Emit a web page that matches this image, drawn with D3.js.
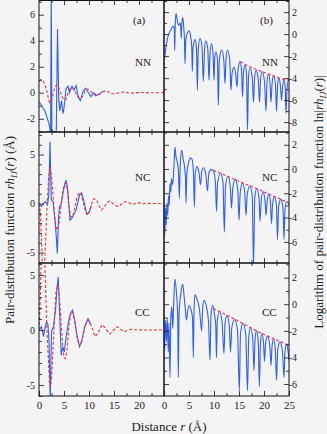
<!DOCTYPE html>
<html>
<head>
<meta charset="utf-8">
<script src="https://cdn.jsdelivr.net/npm/d3@7"></script>
<style>
  body { margin: 0; background: #f4f4f4; }
  svg { display: block; font-family: "Liberation Serif", "Times New Roman", serif; }
</style>
</head>
<body>
<div class="graph-container"></div>
<script>
// ---- data ----
// (a) pair-distribution functions r*h_IJ(r): blue = simulation, red dashed = model
const nnLinR = [0, 0.4, 0.8, 1.2, 1.6, 2.0, 2.2, 2.32, 2.45, 2.58, 2.9, 3.2, 3.45, 3.7, 3.95, 4.15, 4.5, 4.8, 5.0, 5.4, 5.8, 6.1, 6.6, 7.0, 7.4, 7.9, 8.3, 8.8, 9.3, 9.8, 10.4, 10.9, 11.5, 12.1, 12.7, 13.2];
const nnLinV = [-0.7, -0.9, -1.2, -1.4, -1.9, -2.4, -2.8, -3.5, 8.0, -3.5, -2.98, -2.98, -3.2, 4.9, -0.5, -1.4, -0.6, -1.6, -1.2, 0.3, 0.5, 0.0, 0.5, 0.2, 0.55, -0.4, -0.6, 0.1, 0.35, 0.05, -0.3, 0.0, -0.2, -0.1, 0.1, 0.1];
const nnFitR = [0, 0.3, 0.6, 0.9, 1.2, 1.5, 1.8, 2.1, 2.4, 2.7, 3.0, 3.3, 3.6, 3.9, 4.2, 4.6, 5.0, 5.4, 5.8, 6.2, 6.7, 7.2, 7.7, 8.2, 8.7, 9.2, 9.7, 10.2, 10.8, 11.4, 12.0, 12.6, 13.2, 13.9, 14.6, 15.3, 16.1, 17.0, 18.0, 19.0, 20.0, 21.0, 22.0, 23.0, 24.0, 25.0];
const nnFitV = [0.9, 1.0, 1.0, 0.85, 0.6, 0.2, -0.3, -0.75, -0.7, -0.3, 0.2, 0.5, 0.6, 0.45, 0.1, -0.3, -0.55, -0.5, -0.1, 0.3, 0.4, 0.1, -0.25, -0.45, -0.3, 0.1, 0.3, 0.2, -0.1, -0.25, -0.15, 0.05, 0.15, 0.05, -0.08, -0.08, 0.03, 0.05, -0.02, -0.03, 0.01, 0.02, -0.01, 0, 0, 0];

const ncLinR = [0, 0.5, 1.0, 1.3, 1.7, 1.95, 2.2, 2.45, 2.8, 3.1, 3.4, 3.67, 3.9, 4.1, 4.4, 4.9, 5.4, 5.7, 5.95, 6.2, 6.6, 7.0, 7.4, 7.8, 8.2, 8.5, 8.9, 9.2, 9.6, 10.0, 10.5];
const ncLinV = [0, -0.3, 0.1, 0.2, -0.1, 0.8, 6.3, 0.4, 0.2, -1.2, -3.0, -5.1, -1.5, -0.3, -0.15, 1.4, 2.4, 1.6, 0.0, -1.7, -1.5, -1.1, -0.7, 0.2, 1.0, 1.1, 0.4, -0.3, -1.1, -0.9, -0.2];
const ncFitR = [0, 0.3, 0.55, 0.8, 1.05, 1.3, 1.6, 1.9, 2.2, 2.5, 2.8, 3.1, 3.4, 3.7, 4.0, 4.4, 4.8, 5.1, 5.4, 5.7, 6.0, 6.3, 6.7, 7.1, 7.6, 8.0, 8.4, 8.8, 9.3, 9.7, 10.1, 10.6, 11.0, 11.5, 12.0, 12.5, 13.0, 13.6, 14.2, 14.9, 15.7, 16.4, 17.2, 17.9, 18.6, 19.4, 20.2, 21.0, 22.0, 23.0, 24.0, 25.0];
const ncFitV = [0, -1.0, -4.5, -8.0, -7.5, -4.0, -0.5, 2.5, 3.8, 2.8, 0.8, -1.2, -2.4, -2.7, -2.0, -0.3, 1.3, 2.0, 2.1, 1.3, -0.2, -1.3, -1.4, -0.6, 0.6, 1.1, 1.0, 0.2, -0.8, -1.2, -0.8, 0.1, 0.5, 0.4, -0.2, -0.65, -0.4, 0.1, 0.25, -0.05, -0.3, -0.1, 0.2, 0.1, -0.1, 0, 0.08, 0, 0.02, 0, 0, 0];

const ccLinR = [0, 0.5, 0.9, 1.2, 1.5, 1.8, 2.0, 2.25, 2.5, 2.9, 3.3, 3.6, 3.85, 4.1, 4.45, 4.75, 5.05, 5.4, 5.9, 6.3, 6.7, 7.1, 7.6, 8.1, 8.6, 9.2, 9.8, 10.3];
const ccLinV = [0, 0.3, -0.6, 0.15, 0.75, 0.5, -1.0, -6.5, -0.15, 0.3, 1.8, 3.8, 4.85, 1.8, -2.3, -1.5, -2.0, -0.75, 0.8, 1.5, 1.8, 1.0, -0.5, -1.5, -0.9, 0.4, 1.0, 0.5];
const ccFitR = [0, 0.2, 0.4, 0.6, 0.8, 1.0, 1.3, 1.6, 1.9, 2.1, 2.3, 2.5, 2.8, 3.1, 3.4, 3.7, 4.0, 4.3, 4.7, 5.0, 5.3, 5.6, 6.0, 6.4, 6.8, 7.2, 7.6, 8.1, 8.6, 9.2, 9.8, 10.4, 11.2, 11.8, 12.6, 13.3, 14.2, 14.9, 15.6, 16.4, 17.1, 17.8, 18.6, 19.5, 20.5, 21.5, 22.5, 23.5, 24.5, 25.0];
const ccFitV = [0, 2.0, 5.5, 9.0, 10.0, 8.5, 4.0, 0.0, -3.0, -4.6, -5.2, -4.4, -1.8, 1.2, 3.4, 4.2, 3.5, 1.5, -1.2, -2.5, -2.6, -1.8, 0.4, 1.7, 1.6, 0.6, -0.6, -1.5, -1.0, 0.4, 1.0, 0.5, -0.6, -0.3, 0.5, 0.15, -0.36, 0, 0.3, 0.05, -0.15, 0, 0.08, 0, 0.02, 0, 0.01, 0, 0, 0];

// (b) ln|r*h_IJ(r)|: blue = simulation, red dashed = asymptotic envelope
const nnLogR = [0.1, 0.4, 0.8, 1.3, 1.8, 2.05, 2.15, 2.25, 2.4, 2.6, 2.9, 3.2, 3.35, 3.45, 3.55, 3.75, 3.95, 4.1, 4.2, 4.35, 4.6, 5.0, 5.3, 5.55, 5.67, 5.8, 6.2, 6.5, 6.67, 6.85, 7.2, 7.6, 7.87, 8.1, 8.35, 8.75, 9.0, 9.2, 9.5, 9.8, 10.0, 10.15, 10.4, 10.7, 10.87, 11.05, 11.5, 11.95, 12.2, 12.4, 12.7, 13.15, 13.4, 13.6, 14.0, 14.35, 14.6, 14.8, 15.2, 15.5, 15.7, 15.9, 16.2, 16.5, 16.7, 16.9, 17.2, 17.65, 17.9, 18.1, 18.4, 18.85, 19.1, 19.3, 19.6, 20.1, 20.4, 20.6, 20.9, 21.2, 21.4, 21.6, 21.9, 22.3, 22.5, 22.7, 23.0, 23.3, 23.5, 23.7, 24.0, 24.25, 24.4, 24.6, 24.9, 25.0];
const nnLogV = [-2.3, -1.2, -0.2, 0.3, 0.7, 0.6, -1.5, 0.9, 1.9, 1.4, 0.8, 1.0, 0.6, -0.4, 0.8, 1.5, 0.6, -0.6, -2.7, -0.6, 0.0, 0.3, -0.1, -1.2, -3.4, -1.3, -0.5, -1.3, -5.1, -1.4, -0.4, -1.1, -4.3, -1.5, -0.6, -1.3, -4.2, -1.8, -0.85, -1.7, -4.2, -2.2, -1.6, -2.4, -6.45, -2.5, -1.45, -2.3, -4.5, -2.3, -1.45, -2.4, -5.1, -3.6, -3.0, -3.7, -4.8, -3.3, -2.5, -3.3, -5.7, -3.5, -2.8, -3.6, -8.7, -3.9, -3.1, -4.0, -6.2, -4.1, -3.3, -4.1, -6.2, -4.2, -3.4, -4.3, -7.0, -4.4, -3.6, -4.4, -6.2, -4.6, -3.8, -4.6, -7.0, -4.8, -4.0, -4.8, -6.0, -4.9, -4.1, -4.9, -7.2, -5.0, -4.2, -4.3];
const nnEnvR = [15.3, 17.0, 19.0, 21.0, 23.0, 25.0];
const nnEnvV = [-2.5, -2.95, -3.3, -3.65, -4.0, -4.2];

const ncLogR = [0, 0.15, 0.3, 0.45, 0.6, 0.75, 0.9, 1.05, 1.2, 1.35, 1.5, 1.7, 1.9, 2.05, 2.2, 2.4, 2.7, 2.9, 3.07, 3.25, 3.53, 3.8, 4.1, 4.3, 4.4, 4.55, 4.9, 5.3, 5.6, 5.9, 6.07, 6.25, 6.6, 7.0, 7.3, 7.55, 7.9, 8.35, 8.7, 8.95, 9.4, 9.9, 10.3, 10.5, 10.7, 11.3, 11.8, 12.07, 12.3, 12.8, 13.25, 13.5, 13.75, 14.25, 14.75, 15.0, 15.25, 15.7, 16.15, 16.4, 16.65, 17.15, 17.65, 17.9, 18.15, 18.55, 19.0, 19.2, 19.45, 19.8, 20.2, 20.4, 20.6, 20.95, 21.3, 21.5, 21.7, 22.1, 22.5, 22.7, 22.9, 23.35, 23.8, 24.0, 24.2, 24.5, 25.0];
const ncLogV = [-3.0, -5.5, -3.2, -4.6, -2.8, -3.8, -2.2, -3.0, -1.2, -1.9, -0.8, -1.3, -0.5, 0.8, 1.8, 1.0, 0.5, -0.3, -2.4, 0.4, 1.55, 0.9, 0.2, -0.8, -2.8, -0.5, 0.5, 0.9, 0.8, -0.4, -3.1, -0.4, 0.2, -0.3, -1.3, -0.2, 0.1, -0.4, -1.8, -0.4, -0.05, -0.15, -1.2, -3.5, -1.2, -0.35, -1.1, -5.2, -1.4, -0.6, -1.4, -3.2, -1.6, -0.85, -1.7, -4.2, -1.9, -1.15, -1.9, -3.8, -2.1, -1.4, -2.2, -7.9, -2.4, -1.6, -2.4, -4.3, -2.6, -1.85, -2.6, -3.8, -2.8, -2.05, -2.8, -4.5, -3.0, -2.25, -3.0, -5.8, -3.2, -2.5, -3.2, -5.8, -3.4, -2.7, -2.9];
const ncEnvR = [9.9, 13.0, 16.0, 19.0, 22.0, 25.0];
const ncEnvV = [-0.1, -0.65, -1.2, -1.7, -2.25, -2.8];

const ccLogR = [0, 0.15, 0.3, 0.5, 0.65, 0.85, 1.0, 1.2, 1.35, 1.55, 1.75, 1.95, 2.2, 2.5, 2.75, 2.87, 3.0, 3.4, 3.73, 4.0, 4.3, 4.5, 4.7, 5.0, 5.3, 5.7, 5.87, 6.0, 6.2, 6.6, 7.1, 7.53, 7.75, 8.0, 8.5, 8.9, 9.2, 9.4, 9.73, 10.1, 10.35, 10.5, 10.65, 11.1, 11.6, 12.0, 12.2, 12.6, 13.05, 13.3, 13.55, 14.1, 14.7, 15.07, 15.3, 15.8, 16.35, 16.7, 16.95, 17.3, 17.75, 18.0, 18.2, 18.5, 18.85, 19.07, 19.3, 19.6, 19.9, 20.1, 20.3, 20.7, 21.15, 21.4, 21.6, 21.9, 22.25, 22.5, 22.75, 23.2, 23.7, 24.0, 24.2, 24.5, 24.8, 25.0];
const ccLogV = [-1.5, -3.5, -1.2, -2.8, -1.0, -3.6, -1.4, -5.5, -1.2, -0.2, -1.8, 0.2, 1.9, 0.8, -1.0, -5.5, -0.8, 0.9, 1.5, 0.7, -0.5, -1.2, -0.6, -0.1, -0.3, -1.0, -4.0, -0.6, 0.7, 0.4, -0.4, -2.0, -0.2, 0.3, -0.2, -1.3, -4.2, -0.8, -0.1, -0.8, -1.6, -4.0, -1.3, -0.55, -1.3, -3.7, -1.5, -0.85, -1.6, -3.6, -1.8, -1.15, -2.0, -6.5, -2.2, -1.45, -2.3, -6.5, -2.5, -1.75, -2.6, -5.0, -2.7, -2.0, -2.8, -6.2, -2.9, -2.2, -2.9, -4.3, -3.0, -2.4, -3.1, -4.6, -3.2, -2.6, -3.3, -5.7, -3.4, -2.85, -3.6, -5.5, -3.6, -3.0, -3.5, -4.2];
const ccEnvR = [9.9, 13.0, 16.0, 19.0, 22.0, 25.0];
const ccEnvV = [-0.33, -0.9, -1.5, -2.1, -2.6, -3.1];

// tick labels
const xTicks = [0, 5, 10, 15, 20, 25];
const xMinor = [2.5, 7.5, 12.5, 17.5, 22.5];
const pairNames = ['NN', 'NC', 'CC'];

// ---- layout ----
const w = 327;
const h = 434;
const blue = '#2f5ef0';
const red = '#e8343e';
const rows = [[0, 132], [132, 263], [263, 396]];

const svg = d3.select('.graph-container')
    .append('svg')
    .attr('width', w)
    .attr('height', h);
svg.append('rect').attr('width', w).attr('height', h).attr('fill', '#f4f4f4');

const xLeft = d3.scaleLinear().domain([0, 25]).range([39, 164]);
const xRight = d3.scaleLinear().domain([0, 25]).range([164, 289]);

const panels = [
    { row: 0, x: xLeft, dom: [-3.02, 7.13], major: [-2, 0, 2, 4, 6], blue: [nnLinR, nnLinV], red: [nnFitR, nnFitV], curve: d3.curveLinear },
    { row: 0, x: xRight, dom: [-8.9, 3.1], major: [-8, -6, -4, -2, 0, 2], blue: [nnLogR, nnLogV], red: [nnEnvR, nnEnvV], curve: d3.curveMonotoneX },
    { row: 1, x: xLeft, dom: [-6.07, 7.3], major: [-5, 0, 5], blue: [ncLinR, ncLinV], red: [ncFitR, ncFitV], curve: d3.curveLinear },
    { row: 1, x: xRight, dom: [-7.74, 3.05], major: [-6, -4, -2, 0, 2], blue: [ncLogR, ncLogV], red: [ncEnvR, ncEnvV], curve: d3.curveMonotoneX },
    { row: 2, x: xLeft, dom: [-6.0, 6.1], major: [-5, 0, 5], blue: [ccLinR, ccLinV], red: [ccFitR, ccFitV], curve: d3.curveLinear },
    { row: 2, x: xRight, dom: [-6.9, 3.1], major: [-6, -4, -2, 0, 2], blue: [ccLogR, ccLogV], red: [ccEnvR, ccEnvV], curve: d3.curveMonotoneX }
];

// tick helper: inward ticks, optional labels
function tickAxis(axis, transform, values, len, fmt, pad) {
    const a = axis.tickValues(values)
        .tickSizeInner(-len)
        .tickSizeOuter(0)
        .tickPadding(pad || 4)
        .tickFormat(fmt || (() => ''));
    const g = svg.append('g').attr('transform', transform).call(a);
    g.select('.domain').remove();
    g.selectAll('line').attr('stroke', '#111').attr('stroke-width', 0.8);
    g.attr('font-family', null).attr('font-size', null);
    g.selectAll('text').attr('fill', '#222').attr('font-size', 10);
    return g;
}

panels.forEach((p, i) => {
    const [y0, y1] = rows[p.row];
    const [x0, x1] = p.x.range();
    const yScale = d3.scaleLinear().domain(p.dom).range([y1, y0]);
    const isLeft = p.x === xLeft;

    svg.append('clipPath').attr('id', 'clip' + i)
        .append('rect')
        .attr('x', x0).attr('y', y0)
        .attr('width', x1 - x0).attr('height', y1 - y0);
    const plot = svg.append('g').attr('clip-path', `url(#clip${i})`);

    const line = d3.line()
        .x(d => p.x(d[0]))
        .y(d => yScale(d[1]));

    plot.append('path')
        .datum(d3.zip(p.blue[0], p.blue[1]))
        .attr('fill', 'none')
        .attr('stroke', blue)
        .attr('stroke-width', 1.1)
        .attr('d', line.curve(p.curve));
    plot.append('path')
        .datum(d3.zip(p.red[0], p.red[1]))
        .attr('fill', 'none')
        .attr('stroke', red)
        .attr('stroke-width', 1.1)
        .attr('stroke-dasharray', '3,2')
        .attr('d', line.curve(d3.curveLinear));

    // y ticks: minor every unit, labelled majors
    const yMinor = d3.range(Math.ceil(p.dom[0]), Math.floor(p.dom[1]) + 1).filter(v => !p.major.includes(v));
    if (isLeft) {
        tickAxis(d3.axisLeft(yScale), `translate(${x0},0)`, p.major, 5, d => String(d), 4);
        tickAxis(d3.axisLeft(yScale), `translate(${x0},0)`, yMinor, 3);
    } else {
        tickAxis(d3.axisLeft(yScale), `translate(${x0},0)`, p.major, 5);
        tickAxis(d3.axisLeft(yScale), `translate(${x0},0)`, yMinor, 3);
        const r = tickAxis(d3.axisRight(yScale), `translate(${x1},0)`, p.major, 5, d => String(d), 8);
        r.selectAll('text').attr('text-anchor', 'end');
        tickAxis(d3.axisRight(yScale), `translate(${x1},0)`, yMinor, 3);
    }

    // x ticks on top and bottom edges
    const xMaj = isLeft ? xTicks.slice(1, 5) : xTicks.slice(1, 5);
    tickAxis(d3.axisTop(p.x), `translate(0,${y0})`, xMaj, 5);
    tickAxis(d3.axisTop(p.x), `translate(0,${y0})`, xMinor, 3);
    if (p.row === 2) {
        const labels = isLeft ? xTicks.slice(0, 5) : xTicks;
        const b = tickAxis(d3.axisBottom(p.x), `translate(0,${y1})`, labels, 5, d => String(d), 5);
        b.selectAll('text').attr('font-size', 11);
    } else {
        tickAxis(d3.axisBottom(p.x), `translate(0,${y1})`, xMaj, 5);
    }
    tickAxis(d3.axisBottom(p.x), `translate(0,${y1})`, xMinor, 3);

    // frame
    svg.append('rect')
        .attr('x', x0).attr('y', y0 + (y0 === 0 ? 0.5 : 0))
        .attr('width', x1 - x0).attr('height', y1 - y0 - (y0 === 0 ? 0.5 : 0))
        .attr('fill', 'none')
        .attr('stroke', '#111')
        .attr('stroke-width', 1);

    // pair name
    svg.append('text')
        .text(pairNames[p.row])
        .attr('x', isLeft ? 135 : 262)
        .attr('y', [66, 181, 316][p.row])
        .attr('font-size', 11)
        .attr('fill', '#222');
});

// panel tags
svg.append('text').text('(a)').attr('x', 133).attr('y', 24).attr('font-size', 11).attr('fill', '#222');
svg.append('text').text('(b)').attr('x', 260).attr('y', 24).attr('font-size', 11).attr('fill', '#222');

// axis titles
const yTitle = svg.append('text')
    .attr('transform', 'translate(13.5,230) rotate(-90)')
    .attr('text-anchor', 'middle')
    .attr('font-size', 13)
    .attr('fill', '#222');
yTitle.append('tspan').text('Pair-distribution function ');
yTitle.append('tspan').text('rh').attr('font-style', 'italic');
yTitle.append('tspan').text('IJ').attr('font-style', 'italic').attr('font-size', 9).attr('dy', 3);
yTitle.append('tspan').text('(').attr('dy', -3);
yTitle.append('tspan').text('r').attr('font-style', 'italic');
yTitle.append('tspan').text(') (Å)');

const lnTitle = svg.append('text')
    .attr('transform', 'translate(322.5,202) rotate(-90)')
    .attr('text-anchor', 'middle')
    .attr('font-size', 13)
    .attr('fill', '#222');
lnTitle.append('tspan').text('Logarithm of pair-distribution function ln|');
lnTitle.append('tspan').text('rh').attr('font-style', 'italic');
lnTitle.append('tspan').text('IJ').attr('font-style', 'italic').attr('font-size', 9).attr('dy', 3);
lnTitle.append('tspan').text('(').attr('dy', -3);
lnTitle.append('tspan').text('r').attr('font-style', 'italic');
lnTitle.append('tspan').text(')|');

const xTitle = svg.append('text')
    .attr('x', 169)
    .attr('y', 431)
    .attr('text-anchor', 'middle')
    .attr('font-size', 13)
    .attr('fill', '#222');
xTitle.append('tspan').text('Distance ');
xTitle.append('tspan').text('r').attr('font-style', 'italic');
xTitle.append('tspan').text(' (Å)');
</script>
</body>
</html>
